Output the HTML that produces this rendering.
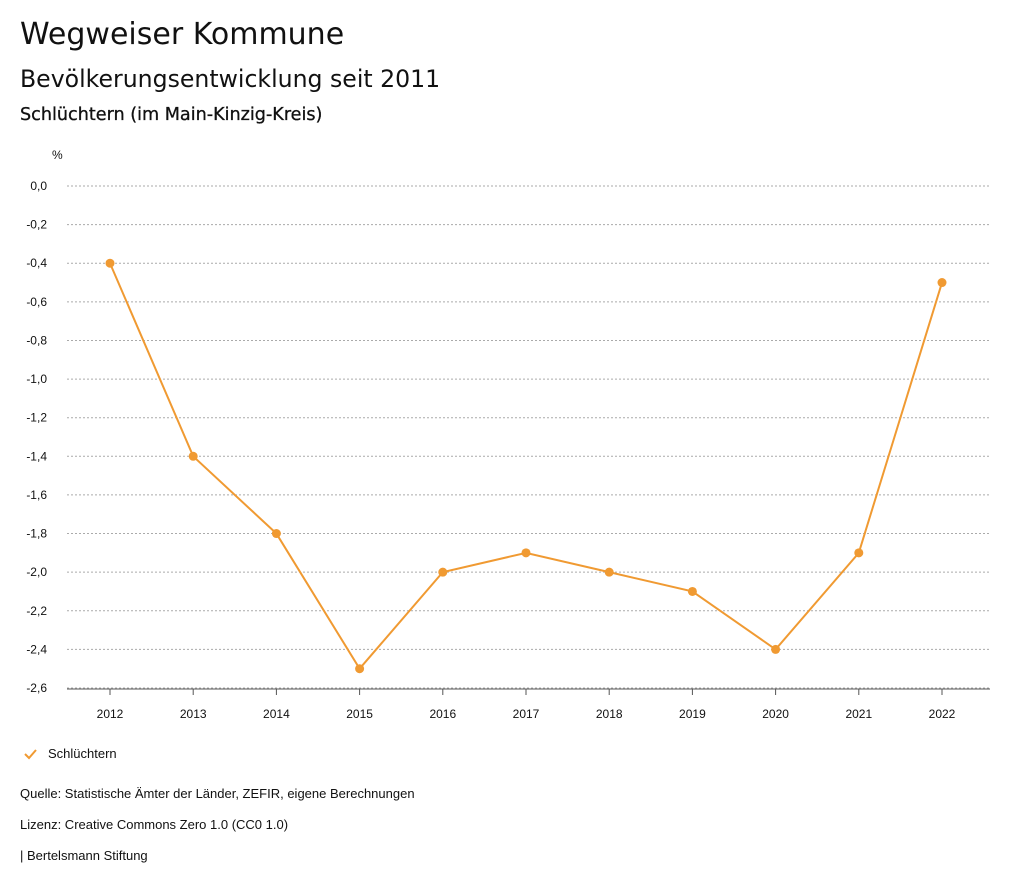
<!DOCTYPE html>
<html><head><meta charset="utf-8"><style>
body{margin:0;background:#fff;font-family:"Liberation Sans",sans-serif;color:#111}
.t{position:absolute;white-space:nowrap}
.d{font-family:"DejaVu Sans",sans-serif}
</style></head><body>
<div style="position:relative;width:1024px;height:888px;overflow:hidden">
<div class="t d" style="left:20px;top:17px;font-size:30px">Wegweiser Kommune</div>
<div class="t d" style="left:20px;top:65px;font-size:23.6px">Bevölkerungsentwicklung seit 2011</div>
<div class="t d" style="left:20px;top:105px;font-size:17.6px;-webkit-text-stroke:0.3px #111">Schlüchtern (im Main-Kinzig-Kreis)</div>
<svg id="c" width="1024" height="888" style="position:absolute;left:0;top:0"></svg>
<div class="t" style="left:48px;top:746px;font-size:13px">Schlüchtern</div>
<div class="t" style="left:20px;top:786px;font-size:13px">Quelle: Statistische Ämter der Länder, ZEFIR, eigene Berechnungen</div>
<div class="t" style="left:20px;top:817px;font-size:13px">Lizenz: Creative Commons Zero 1.0 (CC0 1.0)</div>
<div class="t" style="left:20px;top:848px;font-size:13px">| Bertelsmann Stiftung</div>
</div>
<script>
const years=["2012","2013","2014","2015","2016","2017","2018","2019","2020","2021","2022"];
const values=[-0.4,-1.4,-1.8,-2.5,-2.0,-1.9,-2.0,-2.1,-2.4,-1.9,-0.5];
const yTicks=[0,-0.2,-0.4,-0.6,-0.8,-1.0,-1.2,-1.4,-1.6,-1.8,-2.0,-2.2,-2.4,-2.6];
const NS="http://www.w3.org/2000/svg",svg=document.getElementById('c');
const y=v=>186+(0-v)/2.6*502;
const x=i=>110+i*83.2;
function mk(tag,a,txt){const e=document.createElementNS(NS,tag);for(const k in a)e.setAttribute(k,a[k]);if(txt!=null)e.textContent=txt;svg.appendChild(e);return e;}
const u=mk('text',{x:52,y:159,'font-size':12,fill:'#111'},'%');


yTicks.forEach(v=>{
const g=mk('line',{x1:67,x2:990,y1:y(v),y2:y(v),stroke:'#aaa','stroke-dasharray':'2,2','stroke-width':1});


const t=mk('text',{x:47,y:y(v)+4,'font-size':12,'text-anchor':'end',fill:'#111'},v.toFixed(1).replace('.',','));


});
const ax=mk('line',{x1:67,x2:990,y1:689,y2:689,stroke:'#555','stroke-width':1});


years.forEach((yr,i)=>{
const tk=mk('line',{x1:x(i),x2:x(i),y1:689,y2:695,stroke:'#555'});


const t=mk('text',{x:x(i),y:718,'font-size':12,'text-anchor':'middle',fill:'#111'},yr);


});
const p=mk('polyline',{points:values.map((v,i)=>x(i)+','+y(v)).join(' '),fill:'none',stroke:'#f09a32','stroke-width':2});


values.forEach((v,i)=>{
const c=mk('circle',{cx:x(i),cy:y(v),r:4.5,fill:'#f09a32'});


});
const lg=mk('polyline',{points:'25,754 29,758 36,750',fill:'none',stroke:'#f09a32','stroke-width':2});


</script>
</body></html>
